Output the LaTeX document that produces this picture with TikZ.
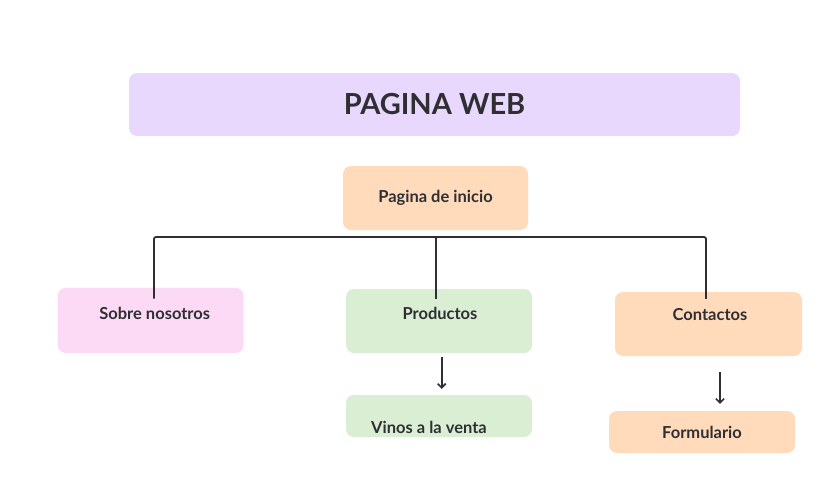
\documentclass[tikz,border=0pt]{standalone}
\usepackage{fontspec}
\setmainfont{Lato}
\usetikzlibrary{arrows.meta}

\definecolor{lavanda}{HTML}{E8D8FD}
\definecolor{durazno}{HTML}{FFDBBB}
\definecolor{rosa}{HTML}{FCDAF5}
\definecolor{verde}{HTML}{D9EED3}
\definecolor{tinta}{HTML}{2F2F33}

\tikzset{
  caja/.style={rectangle, rounded corners=8pt, draw=none, inner sep=0pt},
  lbl/.style={text=tinta, font=\bfseries\fontsize{16.5}{19}\selectfont},
  tree/.style={draw=tinta, line width=1.8pt},
  arr/.style={draw=tinta, line width=1.6pt, -{Straight Barb[length=4pt,width=8pt]}}
}

\begin{document}
\begin{tikzpicture}[x=1pt, y=-1pt]

  \useasboundingbox (0,0) rectangle (817,501);

  % Titulo
  \node[caja, fill=lavanda, minimum width=611pt, minimum height=63pt,
        text=tinta, font=\bfseries\fontsize{29}{32}\selectfont] (titulo) at (434.5,104.5) {PAGINA WEB};

  % Pagina de inicio
  \node[caja, fill=durazno, minimum width=185pt, minimum height=64pt, lbl] (inicio) at (435.5,198) {Pagina de inicio};

  % Secciones
  \node[caja, fill=rosa, minimum width=186pt, minimum height=65pt,
        label={[lbl, xshift=4pt, yshift=7pt]center:Sobre nosotros}] (sobre) at (150.7,320.4) {};
  \node[caja, fill=verde, minimum width=186pt, minimum height=64pt,
        label={[lbl, xshift=1pt, yshift=8pt]center:Productos}] (prod) at (439,321) {};
  \node[caja, fill=durazno, minimum width=187pt, minimum height=64pt,
        label={[lbl, xshift=1.5pt, yshift=9pt]center:Contactos}] (cont) at (708.5,324) {};

  % Subsecciones
  \node[caja, fill=verde, minimum width=186pt, minimum height=42pt,
        label={[lbl, xshift=-10pt, yshift=-11pt]center:Vinos a la venta}] (vinos) at (439,416) {};
  \node[caja, fill=durazno, minimum width=186pt, minimum height=42pt, lbl] (form) at (702,432) {Formulario};

  % Arbol
  \coordinate (sobreTop) at ([xshift=3.3pt, yshift=-11pt]sobre.north);
  \coordinate (prodTop) at ([xshift=-3pt, yshift=-10pt]prod.north);
  \coordinate (contTop) at ([xshift=-2.5pt, yshift=-7pt]cont.north);
  \coordinate (busR) at (contTop |- 0,237);

  \draw[tree, rounded corners=2pt] (sobreTop) |- (busR) -- (contTop);
  \draw[tree] (prodTop) -- (prodTop |- busR);

  % Flechas
  \draw[arr] ([xshift=2.7pt, yshift=-4pt]prod.south) -- ([xshift=2.7pt, yshift=6pt]vinos.north);
  \draw[arr] ([xshift=11.5pt, yshift=-16pt]cont.south) -- ([xshift=18pt, yshift=7pt]form.north);

\end{tikzpicture}
\end{document}
